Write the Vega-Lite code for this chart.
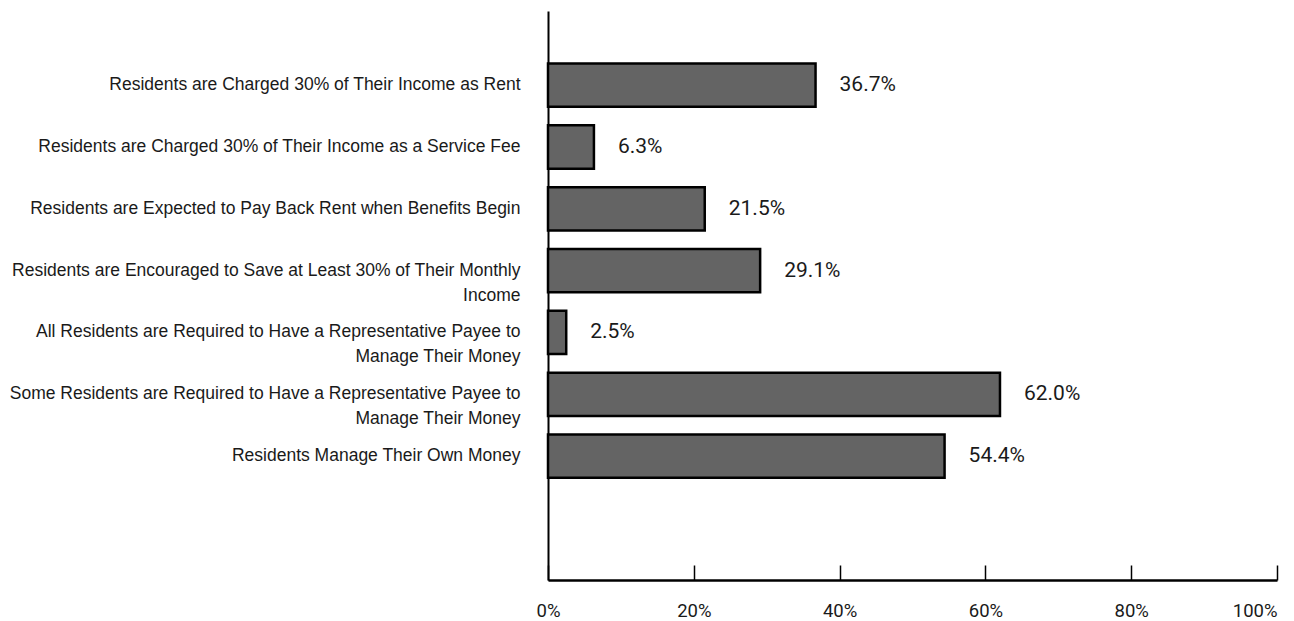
{
  "$schema": "https://vega.github.io/schema/vega-lite/v6.json",
  "width": 729,
  "height": 569,
  "autosize": "none",
  "padding": {"left": 548, "top": 11, "right": 17, "bottom": 41},
  "background": "white",
  "config": {"view": {"stroke": null}},
  "data": {
    "values": [
      {"category": "Residents are Charged 30% of Their Income as Rent", "pct": 0.367},
      {"category": "Residents are Charged 30% of Their Income as a Service Fee", "pct": 0.063},
      {"category": "Residents are Expected to Pay Back Rent when Benefits Begin", "pct": 0.215},
      {"category": "Residents are Encouraged to Save at Least 30% of Their Monthly Income", "pct": 0.291},
      {"category": "All Residents are Required to Have a Representative Payee to Manage Their Money", "pct": 0.025},
      {"category": "Some Residents are Required to Have a Representative Payee to Manage Their Money", "pct": 0.62},
      {"category": "Residents Manage Their Own Money", "pct": 0.544}
    ]
  },
  "encoding": {
    "y": {
      "field": "category",
      "type": "nominal",
      "sort": null,
      "title": null,
      "scale": {
        "domain": [
          "Residents are Charged 30% of Their Income as Rent",
          "Residents are Charged 30% of Their Income as a Service Fee",
          "Residents are Expected to Pay Back Rent when Benefits Begin",
          "Residents are Encouraged to Save at Least 30% of Their Monthly Income",
          "All Residents are Required to Have a Representative Payee to Manage Their Money",
          "Some Residents are Required to Have a Representative Payee to Manage Their Money",
          "Residents Manage Their Own Money",
          " "
        ],
        "paddingInner": 0.3,
        "paddingOuter": 0.752,
        "align": 0.565
      },
      "axis": {
        "domain": true,
        "domainColor": "#000000",
        "domainWidth": 2,
        "ticks": false,
        "labelPadding": 28,
        "labelFont": "Liberation Sans",
        "labelFontSize": 17.5,
        "labelColor": "#1a1a1a",
        "labelLimit": 600,
        "labelLineHeight": 25,
        "labelExpr": "indexof(datum.label, ' to Manage Their Money') > 0 ? [replace(datum.label, ' Manage Their Money', ''), 'Manage Their Money'] : (indexof(datum.label, ' Monthly Income') > 0 ? [replace(datum.label, ' Income', ''), 'Income'] : datum.label)"
      }
    },
    "x": {
      "field": "pct",
      "type": "quantitative",
      "title": null,
      "scale": {"domain": [0, 1], "nice": false},
      "axis": {
        "values": [0, 0.2, 0.4, 0.6, 0.8, 1],
        "format": ".0%",
        "grid": false,
        "domainColor": "#000000",
        "domainWidth": 2.5,
        "tickColor": "#000000",
        "tickWidth": 1.5,
        "tickSize": -15,
        "labelPadding": 36,
        "labelFont": "Roboto",
        "labelFontSize": 18.5,
        "labelColor": "#1a1a1a",
        "labelAlign": {"expr": "datum.value == 1 ? 'right' : 'center'"},
        "labelDx": {"expr": "datum.value == 1 ? 5 : -3"}
      }
    }
  },
  "layer": [
    {
      "mark": {"type": "bar", "fill": "#646464", "stroke": "#000000", "strokeWidth": 2.5}
    },
    {
      "mark": {"type": "text", "align": "left", "baseline": "middle", "dx": 24, "font": "Roboto", "fontSize": 21, "color": "#1a1a1a"},
      "encoding": {"text": {"field": "pct", "type": "quantitative", "format": ".1%"}}
    }
  ]
}
